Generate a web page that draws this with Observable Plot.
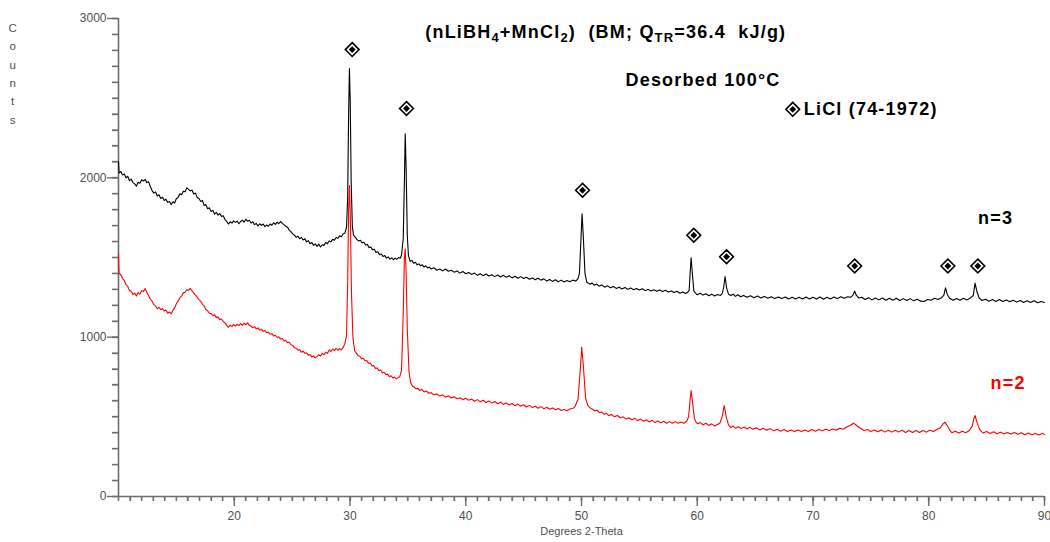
<!DOCTYPE html>
<html>
<head>
<meta charset="utf-8">
<script src="https://cdn.jsdelivr.net/npm/d3@7"></script>
<script src="https://cdn.jsdelivr.net/npm/@observablehq/plot@0.6"></script>
<style>
  html, body { margin: 0; padding: 0; background: #fff; }
  svg text { white-space: pre; }
</style>
</head>
<body>
<div id="chart"></div>
<script>
// ---- Data (degrees 2-theta, counts) ----
const scanN3 = [
  [10.0,2100],[10.05,2030],[10.2,2040],[10.35,2018],[10.5,2024],[10.65,2000],[10.8,2010],[10.95,1982],[11.1,1992],
  [11.25,1970],[11.4,1962],[11.55,1948],[11.7,1972],[11.85,1966],[12.0,1988],[12.15,1980],[12.3,1990],[12.45,1970],
  [12.6,1976],[12.75,1944],[12.9,1920],[13.05,1904],[13.2,1912],[13.35,1886],[13.5,1894],[13.65,1870],[13.8,1878],
  [13.95,1858],[14.1,1866],[14.25,1846],[14.4,1852],[14.55,1832],[14.7,1850],[14.85,1842],[15.0,1870],[15.15,1876],
  [15.3,1900],[15.45,1894],[15.6,1916],[15.75,1912],[15.9,1938],[16.05,1928],[16.2,1918],[16.35,1924],[16.5,1898],
  [16.65,1904],[16.8,1876],[16.95,1870],[17.1,1852],[17.25,1858],[17.4,1826],[17.55,1832],[17.7,1806],[17.85,1812],
  [18.0,1788],[18.15,1796],[18.3,1772],[18.45,1784],[18.6,1766],[18.75,1776],[18.9,1758],[19.05,1762],[19.2,1738],
  [19.35,1726],[19.5,1710],[19.65,1724],[19.8,1716],[19.95,1730],[20.1,1720],[20.25,1728],[20.4,1712],[20.55,1726],
  [20.7,1734],[20.85,1722],[21.0,1740],[21.15,1728],[21.3,1734],[21.45,1716],[21.6,1724],[21.75,1706],[21.9,1714],
  [22.05,1698],[22.2,1712],[22.35,1702],[22.5,1710],[22.65,1694],[22.8,1704],[22.95,1696],[23.1,1710],[23.25,1702],
  [23.4,1718],[23.55,1708],[23.7,1722],[23.85,1712],[24.0,1726],[24.15,1714],[24.3,1706],[24.45,1696],[24.6,1690],
  [24.75,1672],[24.9,1662],[25.05,1648],[25.2,1640],[25.35,1626],[25.5,1634],[25.65,1618],[25.8,1626],[25.95,1610],
  [26.1,1618],[26.25,1598],[26.4,1606],[26.55,1586],[26.7,1594],[26.85,1576],[27.0,1586],[27.15,1570],[27.3,1584],
  [27.45,1566],[27.6,1580],[27.75,1576],[27.9,1594],[28.05,1586],[28.2,1604],[28.35,1598],[28.5,1614],[28.65,1608],
  [28.8,1626],[28.95,1620],[29.1,1636],[29.25,1630],[29.4,1648],[29.55,1652],[29.7,1690],
  [29.8,1880],[29.88,2400],[29.95,2686],[30.02,2480],[30.1,1980],[30.2,1700],[30.3,1640],[30.45,1628],[30.6,1612],
  [30.75,1604],[30.9,1608],[31.05,1592],[31.2,1596],[31.35,1578],[31.5,1582],[31.65,1562],[31.8,1566],[31.95,1548],
  [32.1,1552],[32.25,1532],[32.4,1536],[32.55,1518],[32.7,1522],[32.85,1506],[33.0,1512],[33.15,1496],[33.3,1504],
  [33.45,1490],[33.6,1498],[33.75,1486],[33.9,1496],[34.05,1488],[34.2,1500],[34.35,1496],[34.45,1516],[34.6,1620],
  [34.7,1980],[34.77,2276],[34.85,2050],[34.95,1640],[35.05,1510],[35.2,1476],[35.35,1482],[35.5,1464],[35.65,1470],
  [35.8,1454],[35.95,1460],[36.1,1448],[36.25,1454],[36.4,1440],[36.55,1448],[36.7,1434],[36.85,1440],[37.0,1428],
  [37.25,1436],[37.5,1420],[37.75,1428],[38.0,1416],[38.25,1428],[38.5,1414],[38.75,1420],[39.0,1408],[39.25,1416],
  [39.5,1402],[39.75,1412],[40.0,1398],[40.25,1406],[40.5,1394],[40.75,1402],[41.0,1388],[41.25,1398],[41.5,1386],
  [41.75,1396],[42.0,1384],[42.25,1392],[42.5,1380],[42.75,1390],[43.0,1378],[43.25,1388],[43.5,1376],[43.75,1386],
  [44.0,1372],[44.25,1382],[44.5,1370],[44.75,1380],[45.0,1368],[45.25,1376],[45.5,1364],[45.75,1372],[46.0,1360],
  [46.25,1370],[46.5,1358],[46.75,1366],[47.0,1352],[47.25,1362],[47.5,1350],[47.75,1360],[48.0,1348],[48.25,1358],
  [48.5,1346],[48.75,1356],[49.0,1348],[49.25,1358],[49.5,1352],[49.7,1368],[49.82,1400],[49.95,1610],[50.05,1774],
  [50.15,1640],[50.3,1400],[50.45,1346],[50.6,1338],[50.75,1332],[50.9,1340],[51.1,1326],[51.3,1334],[51.5,1320],
  [51.75,1328],[52.0,1314],[52.25,1322],[52.5,1310],[52.75,1318],[53.0,1306],[53.25,1314],[53.5,1302],[53.75,1312],
  [54.0,1300],[54.25,1308],[54.5,1298],[54.75,1306],[55.0,1296],[55.25,1304],[55.5,1292],[55.75,1300],[56.0,1290],
  [56.25,1298],[56.5,1288],[56.75,1296],[57.0,1286],[57.25,1294],[57.5,1284],[57.75,1290],[58.0,1280],[58.25,1288],
  [58.5,1276],[58.75,1284],[59.0,1274],[59.15,1280],[59.3,1294],[59.4,1420],[59.47,1498],[59.55,1425],[59.7,1292],
  [59.85,1276],[60.0,1266],[60.25,1276],[60.5,1264],[60.75,1272],[61.0,1260],[61.25,1270],[61.5,1258],[61.75,1268],
  [62.0,1262],[62.15,1274],[62.28,1310],[62.4,1381],[62.55,1305],[62.7,1270],[62.9,1262],[63.1,1270],[63.3,1256],
  [63.5,1266],[63.75,1254],[64.0,1262],[64.3,1250],[64.6,1260],[64.9,1248],[65.2,1258],[65.5,1246],[65.8,1256],
  [66.1,1244],[66.4,1254],[66.7,1242],[67.0,1252],[67.3,1242],[67.6,1252],[67.9,1240],[68.2,1250],[68.5,1240],
  [68.8,1250],[69.1,1240],[69.4,1252],[69.7,1240],[70.0,1250],[70.3,1240],[70.6,1252],[70.9,1238],[71.2,1250],
  [71.5,1240],[71.8,1252],[72.1,1242],[72.4,1254],[72.7,1244],[73.0,1254],[73.25,1250],[73.45,1264],[73.6,1289],
  [73.75,1262],[73.95,1246],[74.2,1250],[74.5,1236],[74.8,1248],[75.1,1234],[75.4,1246],[75.7,1234],[76.0,1246],
  [76.3,1232],[76.6,1244],[76.9,1232],[77.2,1244],[77.5,1230],[77.8,1242],[78.1,1230],[78.4,1242],[78.7,1228],
  [79.0,1238],[79.3,1226],[79.6,1224],[79.9,1236],[80.2,1232],[80.5,1244],[80.8,1236],[81.1,1248],[81.3,1262],
  [81.45,1310],[81.6,1268],[81.8,1244],[82.1,1232],[82.4,1242],[82.7,1232],[83.0,1244],[83.3,1234],[83.6,1246],
  [83.85,1262],[84.0,1339],[84.15,1290],[84.35,1246],[84.6,1230],[84.9,1238],[85.2,1226],[85.5,1236],[85.8,1224],
  [86.1,1236],[86.4,1224],[86.7,1234],[87.0,1222],[87.3,1232],[87.6,1220],[87.9,1230],[88.2,1218],[88.5,1228],
  [88.8,1218],[89.1,1228],[89.4,1216],[89.7,1224],[90.0,1218]
];

const scanN2 = [
  [10.0,1520],[10.05,1400],[10.2,1392],[10.35,1368],[10.5,1356],[10.65,1330],[10.8,1318],[10.95,1292],[11.1,1288],
  [11.25,1268],[11.4,1276],[11.55,1258],[11.7,1280],[11.85,1270],[12.0,1292],[12.15,1286],[12.3,1306],[12.45,1280],
  [12.6,1262],[12.75,1238],[12.9,1226],[13.05,1204],[13.2,1196],[13.35,1178],[13.5,1188],[13.65,1172],[13.8,1180],
  [13.95,1164],[14.1,1170],[14.25,1150],[14.4,1158],[14.55,1146],[14.7,1168],[14.85,1184],[15.0,1210],[15.15,1226],
  [15.3,1248],[15.45,1258],[15.6,1278],[15.75,1282],[15.9,1298],[16.05,1294],[16.2,1306],[16.35,1290],[16.5,1278],
  [16.65,1264],[16.8,1252],[16.95,1236],[17.1,1226],[17.25,1206],[17.4,1196],[17.55,1174],[17.7,1166],[17.85,1150],
  [18.0,1148],[18.15,1136],[18.3,1140],[18.45,1124],[18.6,1126],[18.75,1110],[18.9,1114],[19.05,1098],[19.2,1090],
  [19.35,1074],[19.5,1062],[19.65,1076],[19.8,1066],[19.95,1080],[20.1,1070],[20.25,1082],[20.4,1072],[20.55,1086],
  [20.7,1074],[20.85,1088],[21.0,1078],[21.15,1090],[21.3,1074],[21.45,1070],[21.6,1060],[21.75,1066],[21.9,1052],
  [22.05,1058],[22.2,1044],[22.35,1050],[22.5,1036],[22.65,1042],[22.8,1028],[22.95,1032],[23.1,1018],[23.25,1022],
  [23.4,1008],[23.55,1012],[23.7,998],[23.85,1002],[24.0,988],[24.15,992],[24.3,976],[24.45,980],[24.6,966],
  [24.75,968],[24.9,952],[25.05,948],[25.2,934],[25.35,930],[25.5,918],[25.65,922],[25.8,906],[25.95,912],
  [26.1,898],[26.25,902],[26.4,886],[26.55,892],[26.7,876],[26.85,882],[27.0,870],[27.15,878],[27.3,890],
  [27.45,882],[27.6,898],[27.75,890],[27.9,906],[28.05,898],[28.2,920],[28.35,910],[28.5,926],[28.65,916],
  [28.8,930],[28.95,918],[29.1,928],[29.25,920],[29.4,934],[29.55,958],[29.7,1010],
  [29.8,1350],[29.88,1800],[29.95,1952],[30.03,1760],[30.12,1300],[30.25,1000],[30.4,915],[30.55,900],[30.7,884],
  [30.85,880],[31.0,864],[31.15,868],[31.3,850],[31.45,854],[31.6,836],[31.75,838],[31.9,820],[32.05,822],
  [32.2,804],[32.35,806],[32.5,790],[32.65,794],[32.8,776],[32.95,780],[33.1,764],[33.25,768],[33.4,752],
  [33.55,758],[33.7,744],[33.85,750],[34.0,738],[34.15,746],[34.3,752],[34.45,790],[34.6,1150],[34.7,1500],
  [34.77,1555],[34.85,1400],[34.95,1050],[35.1,780],[35.25,712],[35.4,692],[35.55,686],[35.7,676],[35.85,680],
  [36.0,666],[36.2,672],[36.4,656],[36.6,662],[36.8,648],[37.0,652],[37.25,638],[37.5,644],[37.75,630],
  [38.0,638],[38.25,624],[38.5,632],[38.75,618],[39.0,626],[39.25,614],[39.5,620],[39.75,608],[40.0,616],
  [40.25,604],[40.5,612],[40.75,598],[41.0,608],[41.25,594],[41.5,604],[41.75,590],[42.0,600],[42.25,586],
  [42.5,596],[42.75,582],[43.0,592],[43.25,578],[43.5,588],[43.75,574],[44.0,584],[44.25,570],[44.5,580],
  [44.75,566],[45.0,576],[45.25,562],[45.5,572],[45.75,558],[46.0,566],[46.25,554],[46.5,564],[46.75,550],
  [47.0,560],[47.25,548],[47.5,556],[47.75,544],[48.0,552],[48.25,540],[48.5,546],[48.75,538],[49.0,550],
  [49.25,552],[49.45,566],[49.7,610],[49.9,800],[50.02,937],[50.15,830],[50.35,620],[50.55,570],[50.75,556],
  [50.95,548],[51.15,538],[51.35,542],[51.55,526],[51.75,530],[51.95,516],[52.15,522],[52.35,508],[52.6,514],
  [52.85,500],[53.1,508],[53.35,494],[53.6,500],[53.85,486],[54.1,494],[54.35,482],[54.6,490],[54.85,476],
  [55.1,486],[55.35,472],[55.6,482],[55.85,468],[56.1,478],[56.35,464],[56.6,474],[56.85,462],[57.1,472],
  [57.35,460],[57.6,470],[57.85,460],[58.1,470],[58.35,460],[58.6,468],[58.85,460],[59.1,474],[59.25,500],
  [59.4,620],[59.47,665],[59.58,600],[59.75,490],[59.9,466],[60.05,456],[60.25,464],[60.5,450],[60.75,460],
  [61.0,446],[61.25,456],[61.5,442],[61.75,452],[61.95,460],[62.15,500],[62.33,571],[62.5,500],[62.7,450],
  [62.9,432],[63.1,442],[63.3,428],[63.55,438],[63.8,426],[64.05,436],[64.3,424],[64.55,434],[64.8,422],
  [65.1,432],[65.4,418],[65.7,428],[66.0,416],[66.3,426],[66.6,412],[66.9,422],[67.2,410],[67.5,420],
  [67.8,408],[68.1,418],[68.4,408],[68.7,418],[69.0,408],[69.3,418],[69.6,408],[69.9,420],[70.2,410],
  [70.5,420],[70.8,412],[71.1,422],[71.4,414],[71.7,424],[72.0,416],[72.3,428],[72.6,422],[72.9,436],
  [73.2,446],[73.5,460],[73.8,444],[74.1,428],[74.4,414],[74.7,420],[75.0,408],[75.3,418],[75.6,406],
  [75.9,418],[76.2,404],[76.5,416],[76.8,404],[77.1,416],[77.4,404],[77.7,416],[78.0,402],[78.3,414],
  [78.6,402],[78.9,414],[79.2,402],[79.5,414],[79.8,404],[80.1,416],[80.4,408],[80.7,420],[81.0,432],
  [81.2,452],[81.4,467],[81.6,445],[81.8,418],[82.0,400],[82.3,410],[82.6,398],[82.9,410],[83.2,400],
  [83.5,414],[83.75,440],[83.9,490],[84.0,508],[84.15,470],[84.4,420],[84.7,398],[85.0,408],[85.3,396],
  [85.6,406],[85.9,394],[86.2,404],[86.5,392],[86.8,402],[87.1,392],[87.4,402],[87.7,390],[88.0,400],
  [88.3,388],[88.6,398],[88.9,388],[89.2,396],[89.5,386],[89.8,396],[90.0,390]
];

// LiCl (74-1972) reflection markers: angle and marker height (counts)
const liclAngle  = [30.19, 34.88, 50.09, 59.70, 62.53, 73.60, 81.65, 84.24];
const liclMarker = [2805, 2435, 1922, 1640, 1505, 1447, 1447, 1447];

// Axis ticks and labels
const xMajorTicks = [20, 30, 40, 50, 60, 70, 80, 90];
const yMajorTicks = [0, 1000, 2000, 3000];
const xMinorTicks = d3.range(10, 91, 1);
const yMinorTicks = d3.range(0, 3001, 100);

const titleText   = "(nLiBH4+MnCl2)  (BM; QTR=36.4  kJ/g)";
const subtitle    = "Desorbed 100°C";
const legendLabel = "LiCl (74-1972)";
const seriesLabels = [
  {label: "n=3", x: 85.77, y: 1745, color: "#000000"},
  {label: "n=2", x: 86.85, y: 709,  color: "#ff0000"}
];
const xTitle = "Degrees 2-Theta";
const yTitle = "C\no\nu\nn\nt\ns";

// ---- Build tables ----
const n3 = scanN3.map(([a, c]) => ({angle: a, counts: c}));
const n2 = scanN2.map(([a, c]) => ({angle: a, counts: c}));
const markers = liclAngle.map((a, i) => ({angle: a, counts: liclMarker[i]}));
const legendMarker = [{angle: 68.25, counts: 2430}];

const axisGray = "#6e6e6e";
const textGray = "#505050";
const boldFont = "'Liberation Sans', Arial, Helvetica, sans-serif";

const chart = Plot.plot({
  width: 1050,
  height: 542,
  marginLeft: 118,
  marginRight: 6,
  marginTop: 18,
  marginBottom: 46,
  style: {background: "#ffffff", fontFamily: "'Liberation Sans', Arial, sans-serif", fontSize: "12px", overflow: "visible"},
  x: {domain: [10, 90]},
  y: {domain: [0, 3000]},
  marks: [
    // minor ticks
    Plot.axisX({ticks: xMinorTicks, tickSize: 5, fill: "none", stroke: axisGray, strokeWidth: 1.3, label: null}),
    Plot.axisY({ticks: yMinorTicks, tickSize: 6, fill: "none", stroke: axisGray, strokeWidth: 1.3, label: null}),
    // major ticks with labels
    Plot.axisX({ticks: xMajorTicks, tickSize: 10, tickPadding: 5, tickFormat: d => String(d), stroke: axisGray, strokeWidth: 1.4, fill: textGray, fontSize: 12, label: null}),
    Plot.axisY({ticks: yMajorTicks, tickSize: 11, tickPadding: 1, tickFormat: d => String(d), stroke: axisGray, strokeWidth: 1.4, fill: textGray, fontSize: 12, label: null}),
    // axis lines
    Plot.ruleX([10], {stroke: axisGray, strokeWidth: 1.6}),
    Plot.ruleY([0], {stroke: axisGray, strokeWidth: 1.6}),
    // axis titles
    Plot.text([xTitle], {x: 50, y: -222, text: d => d, fill: textGray, fontSize: 11}),
    Plot.text([yTitle], {x: 0.85, y: 2998, text: d => d, fill: textGray, fontSize: 11.5, lineAnchor: "top", lineHeight: 1.6}),
    // scans
    Plot.line(n3, {x: "angle", y: "counts", stroke: "#000000", strokeWidth: 1.1}),
    Plot.line(n2, {x: "angle", y: "counts", stroke: "#ff0000", strokeWidth: 1.1}),
    // LiCl markers
    Plot.dot(markers.concat(legendMarker), {x: "angle", y: "counts", symbol: "diamond2", r: 6.2, fill: "#ffffff", stroke: "#000000", strokeWidth: 1.6}),
    Plot.dot(markers.concat(legendMarker), {x: "angle", y: "counts", symbol: "diamond2", r: 3.1, fill: "#000000", stroke: "none"}),
    // annotations
    Plot.text([titleText], {x: 36.5, y: 2915, text: d => d, textAnchor: "start", fontSize: 18, fontWeight: "bold", fill: "#000", fontFamily: boldFont}),
    Plot.text([subtitle], {x: 53.8, y: 2611, text: d => d, textAnchor: "start", fontSize: 18, fontWeight: "bold", fill: "#000", fontFamily: boldFont}),
    Plot.text([legendLabel], {x: 69.2, y: 2430, text: d => d, textAnchor: "start", fontSize: 18, fontWeight: "bold", fill: "#000", fontFamily: boldFont}),
    Plot.text(seriesLabels, {x: "x", y: "y", text: "label", fill: "color", fontSize: 18, fontWeight: "bold", fontFamily: boldFont})
  ]
});

const svg = d3.select(chart);
// letter spacing for the bold annotations
svg.selectAll("g[font-weight='bold']").style("letter-spacing", "1.2px");
svg.selectAll("g[font-weight='bold'] text").style("letter-spacing", "1.2px");

// subscripts in the title
svg.selectAll("text").filter(function () { return this.textContent === titleText; }).each(function () {
  const t = d3.select(this);
  t.text(null);
  const parts = [
    ["(nLiBH", false], ["4", true], ["+MnCl", false], ["2", true],
    [")  (BM; Q", false], ["TR", true], ["=36.4  kJ/g)", false]
  ];
  let prevSub = false;
  for (const [s, sub] of parts) {
    const span = t.append("tspan").text(s);
    if (sub) span.attr("font-size", 13);
    if (sub && !prevSub) span.attr("dy", "4");
    else if (!sub && prevSub) span.attr("dy", "-4");
    prevSub = sub;
  }
});

// make sure the minor tick comb is drawn on top, positioned by Plot's own scales
try {
  const sx = chart.scale("x"), sy = chart.scale("y");
  const y0 = sy.apply(0), x0 = sx.apply(10);
  const g = svg.append("g").attr("stroke", axisGray).attr("stroke-width", 1.3).attr("fill", "none");
  xMinorTicks.forEach(v => {
    const px = Math.round(sx.apply(v)) + 0.5;
    g.append("line").attr("x1", px).attr("x2", px).attr("y1", y0).attr("y2", y0 + 5);
  });
  yMinorTicks.forEach(v => {
    const py = Math.round(sy.apply(v)) + 0.5;
    g.append("line").attr("x1", x0 - 6).attr("x2", x0).attr("y1", py).attr("y2", py);
  });
} catch (e) {}

document.getElementById("chart").appendChild(chart);
</script>
</body>
</html>
